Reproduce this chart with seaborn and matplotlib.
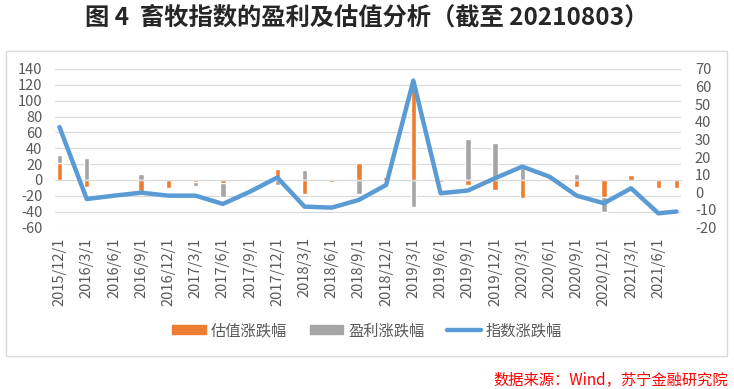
import numpy as np
import pandas as pd
import matplotlib.pyplot as plt
import seaborn as sns
from matplotlib.patches import Patch, Rectangle
from matplotlib.lines import Line2D

# 数据：季度日期（最后一个为 2021/8/3）
dates = ['2015/12/1', '2016/3/1', '2016/6/1', '2016/9/1', '2016/12/1', '2017/3/1',
         '2017/6/1', '2017/9/1', '2017/12/1', '2018/3/1', '2018/6/1', '2018/9/1',
         '2018/12/1', '2019/3/1', '2019/6/1', '2019/9/1', '2019/12/1', '2020/3/1',
         '2020/6/1', '2020/9/1', '2020/12/1', '2021/3/1', '2021/6/1', '2021/8/3']
valuation_chg = [21, -8.4, 0, -14, -9.7, -2.5, -3.4, 0, 13.9, -17.7, -2, 21,
                 3.8, 118, -2, -6.3, -12.6, -22.3, 0, -8.4, -21, 6.3, -10.5, -10.5]
profit_chg = [31.5, 28.1, 0, 7.6, 0, -8, -21, 0, -6.3, 12.6, -3, -17.7,
              0, -33.6, 0, 51.7, 46.2, 14.7, 0, 7.6, -40, 0, 0, 0]
index_chg = [37, -3.8, -1.9, -0.2, -1.9, -1.9, -6.6, 0.4, 8.4, -8.1, -8.7, -4.3,
             4.2, 63.4, -0.5, 1.0, 8.0, 14.6, 8.9, -1.9, -6.2, 2.3, -11.9, -10.9]
tick_labels = dates[:-1]

ORANGE, GRAY, BLUE = '#ed7d31', '#a5a5a5', '#5b9bd5'
GRID, TXT = '#d9d9d9', '#595959'

d = pd.to_datetime(dates, format='%Y/%m/%d')
month = (d.year - 2015) * 12 + d.month - 12   # 以月为单位的日期轴
df = pd.DataFrame({'month': np.asarray(month, dtype=float), 'valuation': valuation_chg,
                   'profit': profit_chg, 'index': index_chg})

sns.set_style('white')
plt.rcParams['font.family'] = ['Noto Sans CJK SC', 'DejaVu Sans']
plt.rcParams['axes.unicode_minus'] = False

fig = plt.figure(figsize=(7.34, 3.89), dpi=100)
ax = fig.add_axes([0.0749, 0.415, 0.8529, 0.4077])

sns.barplot(data=df, x='month', y='profit', native_scale=True, width=0.3,
            color=GRAY, saturation=1, errorbar=None, ax=ax)
sns.barplot(data=df, x='month', y='valuation', native_scale=True, width=0.3,
            color=ORANGE, saturation=1, errorbar=None, ax=ax)

ax2 = ax.twinx()
sns.lineplot(data=df, x='month', y='index', color=BLUE, lw=3.2, ax=ax2)

ax.set_ylim(-60, 140)
ax.set_yticks(range(-60, 141, 20))
ax.yaxis.grid(True, color=GRID, lw=0.8)
ax.xaxis.grid(False)
ax.set_axisbelow(True)
for s in ['top', 'left', 'right']:
    ax.spines[s].set_visible(False)
ax.spines['bottom'].set_position(('data', 0))
ax.spines['bottom'].set_color(GRID)
ax.set_xticks(np.arange(-0.5, 69, 3))
ax.tick_params(axis='x', length=5, color=GRID, labelbottom=False, direction='out')
ax.tick_params(axis='y', length=0, pad=9, labelsize=10.5, labelcolor=TXT)
ax.set_xlabel('')
ax.set_ylabel('')

sec = ax.secondary_xaxis('bottom')
sec.set_xticks(df['month'][:-1], labels=tick_labels)
sec.tick_params(length=0, pad=7, labelrotation=90, labelsize=10.5, labelcolor=TXT)
sec.spines['bottom'].set_visible(False)

ax2.set_ylim(-20, 70)
ax2.set_yticks(range(-20, 71, 10))
ax2.grid(False)
for s in ax2.spines.values():
    s.set_visible(False)
ax2.tick_params(axis='y', length=0, pad=10, labelsize=10.5, labelcolor=TXT)
ax2.set_ylabel('')
ax.set_xlim(-0.5, 68.5)

handles = [Patch(color=ORANGE), Patch(color=GRAY), Line2D([], [], color=BLUE, lw=3.2)]
fig.legend(handles, ['估值涨跌幅', '盈利涨跌幅', '指数涨跌幅'], loc='center',
           bbox_to_anchor=(0.5, 0.150), ncol=3, frameon=False, fontsize=11,
           handlelength=2.2, handleheight=0.5, handletextpad=0.3,
           columnspacing=1.5, labelcolor=TXT)

fig.patches.append(Rectangle((6 / 734, 1 - 356 / 389), 721 / 734, 305 / 389,
                             transform=fig.transFigure, fill=False, ec=GRID, lw=1))
fig.text(0.5, 1 - 18 / 389, '图 4  畜牧指数的盈利及估值分析（截至 20210803）',
         ha='center', va='center', fontsize=17.5, fontweight='bold')
fig.text(0.992, 1 - 380 / 389, '数据来源：Wind，苏宁金融研究院', ha='right',
         va='center', color='red', fontsize=11, style='italic')

fig.savefig('out.png', dpi=100)
